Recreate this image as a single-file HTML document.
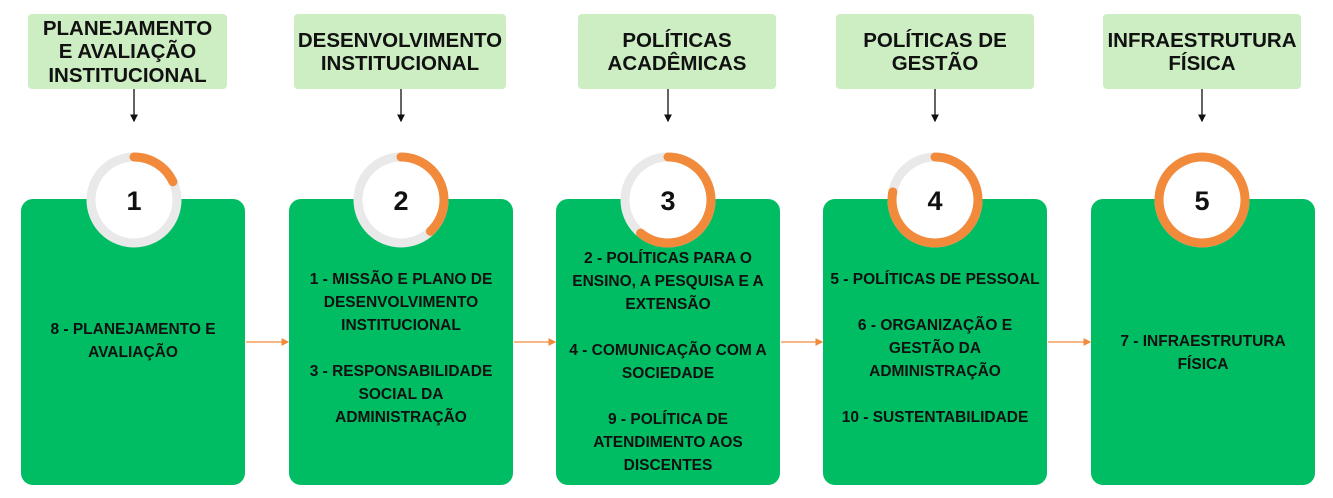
<!DOCTYPE html>
<html><head><meta charset="utf-8"><style>
body{margin:0;width:1333px;height:498px;background:#fff;position:relative;overflow:hidden;font-family:"Liberation Sans",Arial,sans-serif;}
.h{position:absolute;top:14px;height:75px;background:#cdeec2;border-radius:4px;display:flex;align-items:center;justify-content:center;text-align:center;font-weight:bold;font-size:20.5px;line-height:23.5px;color:#111;padding-top:1px;box-sizing:border-box;}
.c{position:absolute;top:199px;width:224px;height:286px;background:#00bd63;border-radius:12px;}
.t{position:absolute;width:224px;text-align:center;font-weight:bold;font-size:15.5px;line-height:23px;color:#111;}
svg{position:absolute;left:0;top:0}
</style></head><body>
<div class="h" style="left:28px;width:199px">PLANEJAMENTO<br>E AVALIAÇÃO<br>INSTITUCIONAL</div>
<div class="h" style="left:294px;width:212px">DESENVOLVIMENTO<br>INSTITUCIONAL</div>
<div class="h" style="left:578px;width:198px">POLÍTICAS<br>ACADÊMICAS</div>
<div class="h" style="left:836px;width:198px">POLÍTICAS DE<br>GESTÃO</div>
<div class="h" style="left:1103px;width:198px">INFRAESTRUTURA<br>FÍSICA</div>
<div class="c" style="left:21px"></div>
<div class="c" style="left:289px"></div>
<div class="c" style="left:556px"></div>
<div class="c" style="left:823px"></div>
<div class="c" style="left:1091px"></div>
<svg width="1333" height="498">
<defs><marker id="a" markerWidth="6" markerHeight="6" refX="5" refY="3" orient="auto"><path d="M0,0L6,3L0,6z" fill="#111"/></marker>
<marker id="o" markerWidth="6" markerHeight="6" refX="5" refY="3" orient="auto"><path d="M0,0L6,3L0,6z" fill="#f28a3c"/></marker></defs>
<g stroke="#111" stroke-width="1.3" marker-end="url(#a)">
<line x1="134" y1="89" x2="134" y2="121"/><line x1="401" y1="89" x2="401" y2="121"/><line x1="668" y1="89" x2="668" y2="121"/><line x1="935" y1="89" x2="935" y2="121"/><line x1="1202" y1="89" x2="1202" y2="121"/>
</g>
<g stroke="#f28a3c" stroke-width="1.3" marker-end="url(#o)">
<line x1="246" y1="342" x2="288" y2="342"/><line x1="514" y1="342" x2="555" y2="342"/><line x1="781" y1="342" x2="822" y2="342"/><line x1="1048" y1="342" x2="1090" y2="342"/>
</g>
<g fill="#fff" stroke="#e9e9e9" stroke-width="9">
<circle cx="134" cy="200" r="43"/><circle cx="401" cy="200" r="43"/><circle cx="668" cy="200" r="43"/><circle cx="935" cy="200" r="43"/><circle cx="1202" cy="200" r="43"/>
</g>
<g fill="none" stroke="#f28a3c" stroke-width="9" stroke-linecap="round">
<circle cx="134" cy="200" r="43" pathLength="100" stroke-dasharray="18 100" transform="rotate(-90 134 200)"/>
<circle cx="401" cy="200" r="43" pathLength="100" stroke-dasharray="38 100" transform="rotate(-90 401 200)"/>
<circle cx="668" cy="200" r="43" pathLength="100" stroke-dasharray="61 100" transform="rotate(-90 668 200)"/>
<circle cx="935" cy="200" r="43" pathLength="100" stroke-dasharray="78 100" transform="rotate(-90 935 200)"/>
<circle cx="1202" cy="200" r="43"/>
</g>
<g font-family="Liberation Sans, Arial, sans-serif" font-weight="bold" font-size="27" text-anchor="middle" fill="#111">
<text x="134" y="210">1</text><text x="401" y="210">2</text><text x="668" y="210">3</text><text x="935" y="210">4</text><text x="1202" y="210">5</text>
</g>
</svg>
<div class="t" style="left:21px;top:318px">8 - PLANEJAMENTO E<br>AVALIAÇÃO</div>
<div class="t" style="left:289px;top:268px">1 - MISSÃO E PLANO DE<br>DESENVOLVIMENTO<br>INSTITUCIONAL<br><br>3 - RESPONSABILIDADE<br>SOCIAL DA<br>ADMINISTRAÇÃO</div>
<div class="t" style="left:556px;top:247px">2 - POLÍTICAS PARA O<br>ENSINO, A PESQUISA E A<br>EXTENSÃO<br><br>4 - COMUNICAÇÃO COM A<br>SOCIEDADE<br><br>9 - POLÍTICA DE<br>ATENDIMENTO AOS<br>DISCENTES</div>
<div class="t" style="left:823px;top:268px">5 - POLÍTICAS DE PESSOAL<br><br>6 - ORGANIZAÇÃO E<br>GESTÃO DA<br>ADMINISTRAÇÃO<br><br>10 - SUSTENTABILIDADE</div>
<div class="t" style="left:1091px;top:330px">7 - INFRAESTRUTURA<br>FÍSICA</div>
</body></html>
